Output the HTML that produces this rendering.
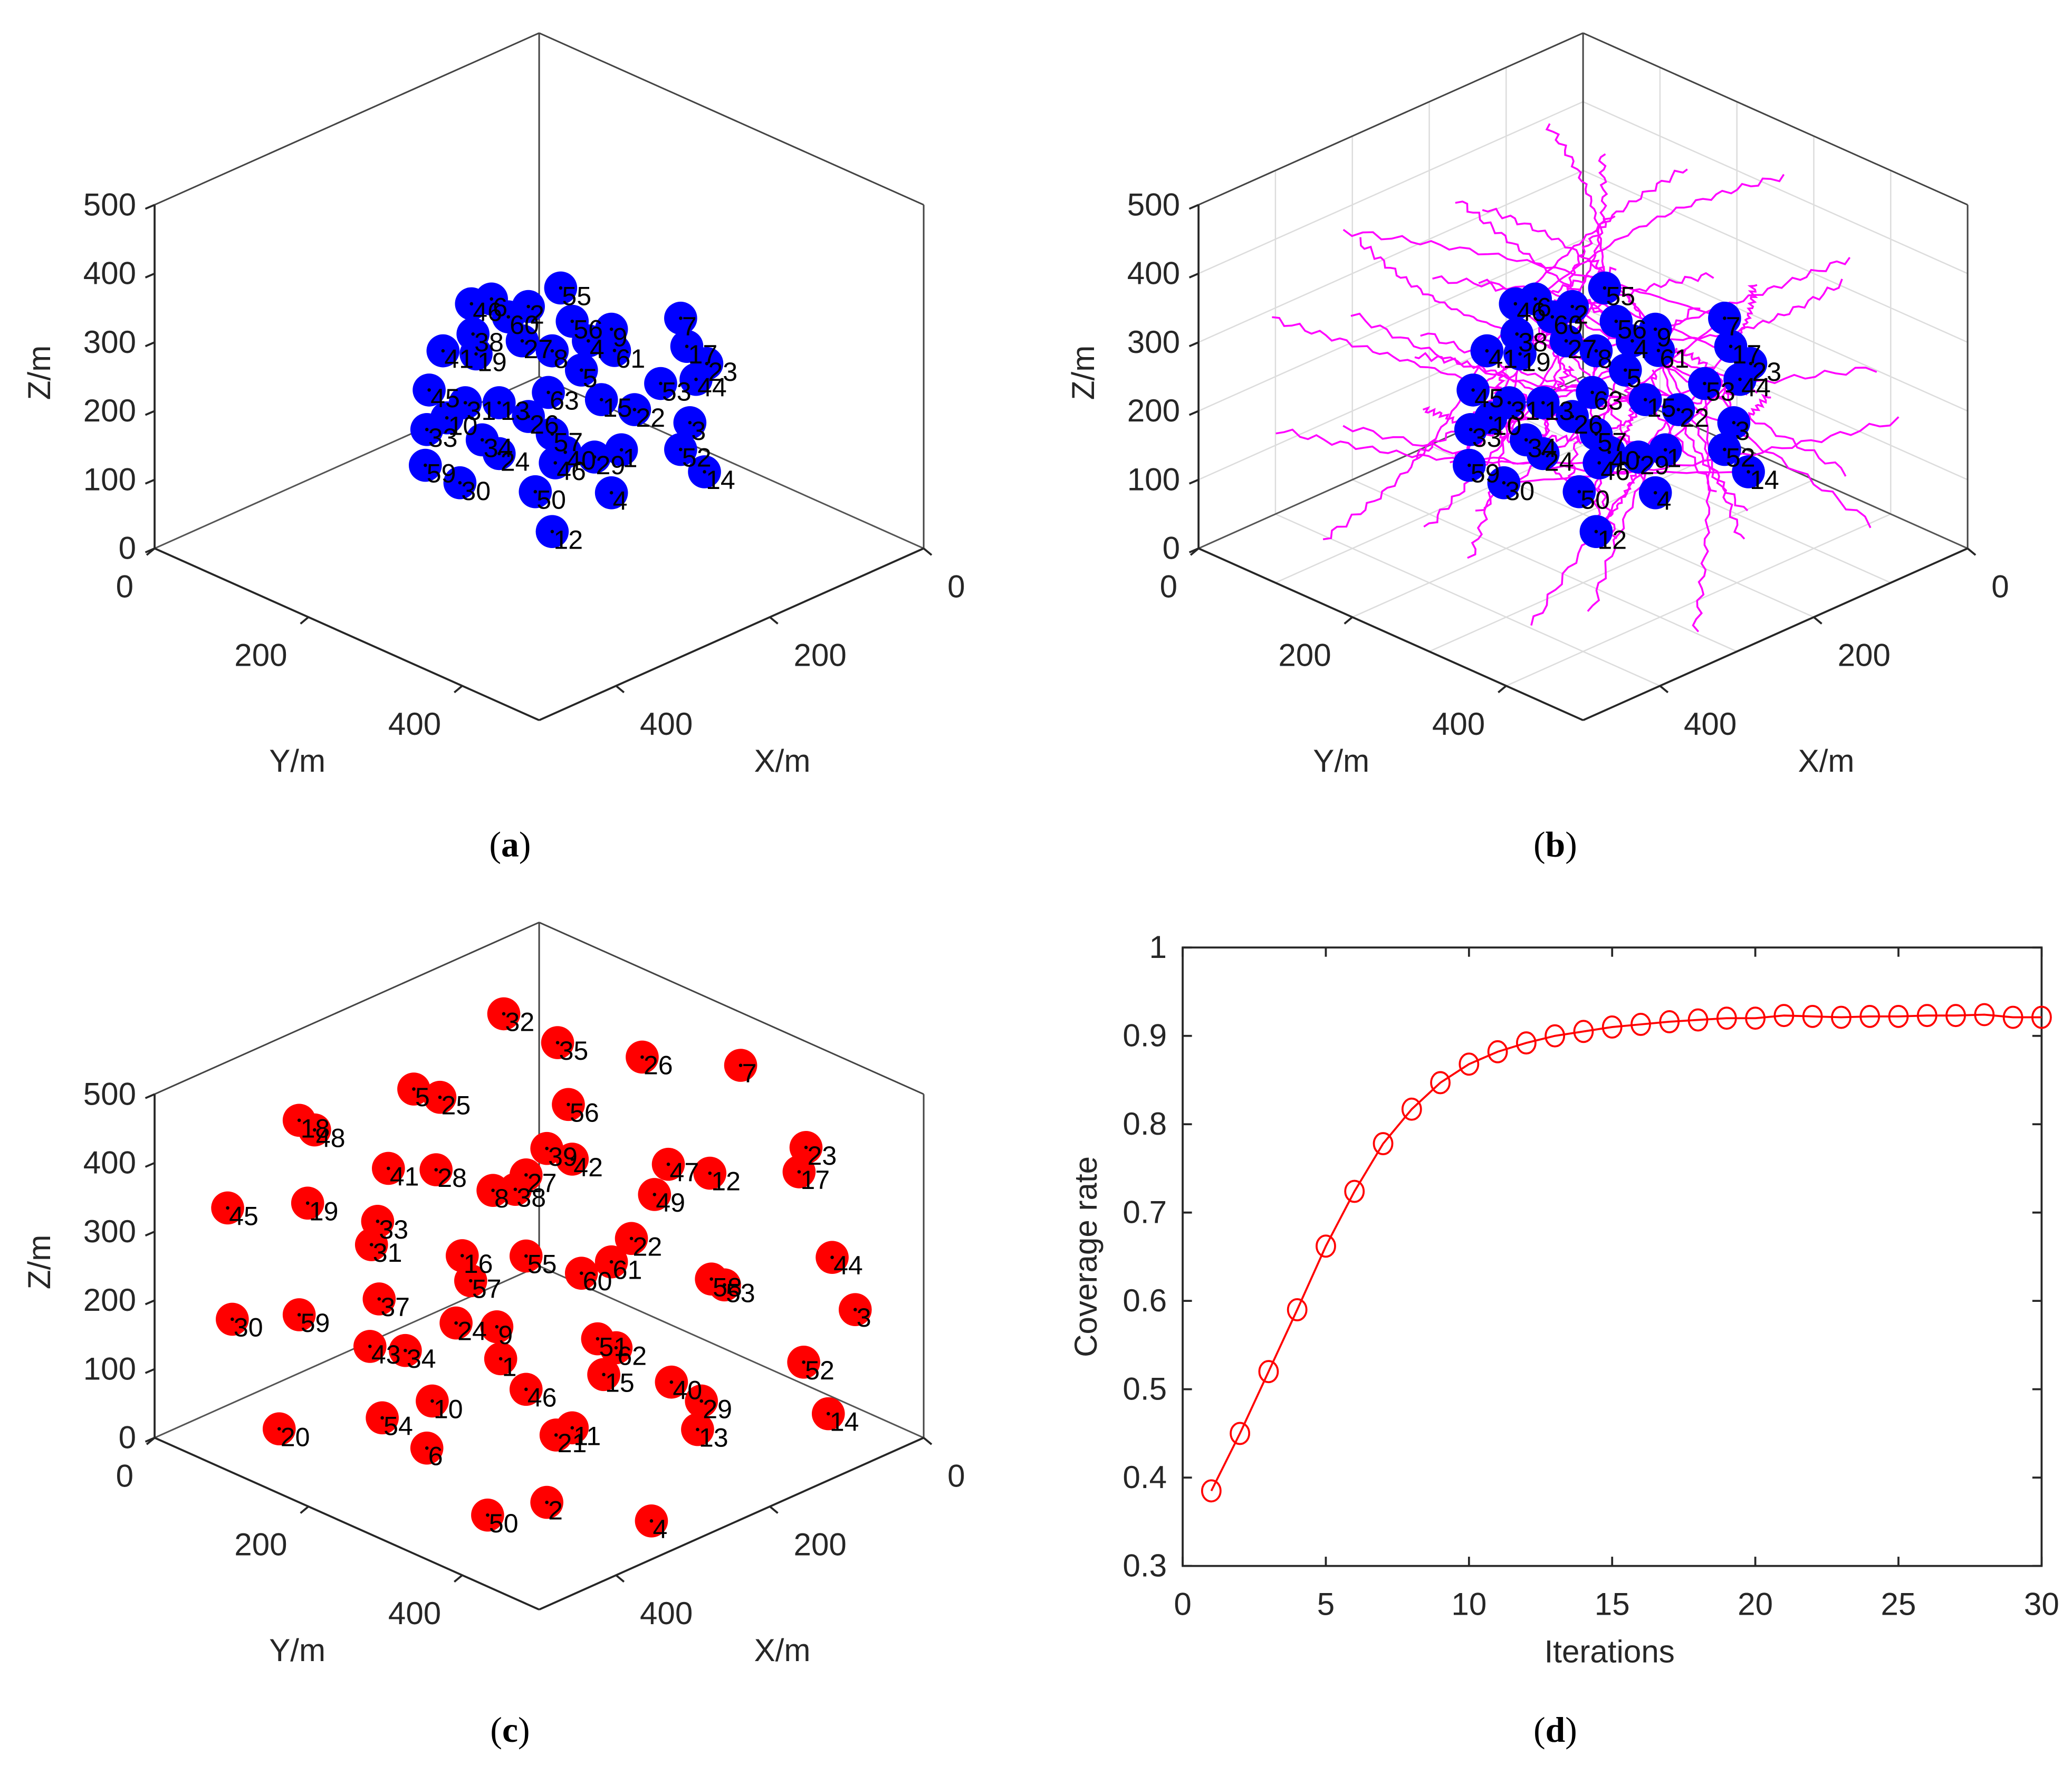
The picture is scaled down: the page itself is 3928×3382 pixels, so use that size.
<!DOCTYPE html>
<html><head><meta charset="utf-8"><style>
html,body{margin:0;padding:0;background:#fff;}
svg{display:block;font-family:"Liberation Sans",sans-serif;}
</style></head><body>
<svg id="fig" xmlns="http://www.w3.org/2000/svg" width="3928" height="3382" viewBox="0 0 1568 1350" preserveAspectRatio="none">
<rect width="1568" height="1350" fill="#fff"/>
<g id="pa"></g>
<g id="pb"></g>
<g id="pc"></g>
<g id="pd"></g>
<text x="386" y="648" text-anchor="middle" font-family="Liberation Serif,serif" font-size="27">(<tspan font-weight="bold">a</tspan>)</text>
<text x="1177" y="648" text-anchor="middle" font-family="Liberation Serif,serif" font-size="27">(<tspan font-weight="bold">b</tspan>)</text>
<text x="386" y="1318" text-anchor="middle" font-family="Liberation Serif,serif" font-size="27">(<tspan font-weight="bold">c</tspan>)</text>
<text x="1177" y="1318" text-anchor="middle" font-family="Liberation Serif,serif" font-size="27">(<tspan font-weight="bold">d</tspan>)</text>
</svg>
<script>
// initial node positions (panels a, b)
const initLabels=["55","2","46","6","56","9","7","38","27","8","4","61","41","19","17","23","53","44","63","45","31","13","15","22","26","3","33","34","24","57","40","1","29","52","59","30","46","14","50","4","12","10","60","5"];
const initX=[361,382,419,406,354,328,283,418,386,367,343,326,438,416,279,266,296,273,369,447,423,401,335,313,382,277,448,412,401,367,358,322,339,283,449,427,365,268,378,328,367,435,395,348];
const initY=[389,368,331,344,397,422,467,332,364,384,407,424,313,334,471,484,454,477,381,304,327,349,416,437,368,473,302,338,349,384,392,429,411,467,301,324,386,483,373,422,384,315,355,403];
const initZ=[504,477,481,488,456,444,460,437,427,413,427,413,413,408,419,394,365,371,352,356,337,337,342,327,317,308,298,283,263,292,265,269,258,269,246,221,250,237,208,206,150,315,462,385];
// final node positions (panel c)
const finLabels=["32","35","26","7","5","25","18","48","56","23","17","39","42","47","12","41","28","27","8","38","49","45","19","33","31","22","44","16","55","61","60","57","58","53","37","3","30","59","24","9","51","62","43","34","1","52","15","40","46","29","10","14","54","11","21","13","20","6","2","50","4"];
const finX=[398,363,308,244,457,440,531,521,356,202,206,370,354,291,264,473,442,384,405,391,300,578,526,480,484,315,185,425,384,328,348,420,263,255,479,170,575,531,429,403,337,325,485,462,400,203,333,289,384,270,445,187,477,354,364,272,544,448,370,409,302];
const finY=[352,387,442,506,294,311,219,229,394,549,544,380,397,459,486,277,308,367,345,360,450,173,225,270,266,435,566,325,367,422,403,331,487,496,271,581,176,219,321,348,413,425,265,288,350,547,417,461,367,481,306,563,273,397,386,478,206,302,380,342,448];
const finZ=[742,700,679,667,633,621,587,573,610,548,512,546,531,523,510,517,515,508,485,487,479,460,467,440,406,415,388,390,390,381,365,354,356,348,327,312,298,304,292,287,269,256,258,252,240,235,217,206,196,179,179,160,154,140,129,137,138,110,31,13,4];
// coverage
const iterations=[1,2,3,4,5,6,7,8,9,10,11,12,13,14,15,16,17,18,19,20,21,22,23,24,25,26,27,28,29,30];
const coverage=[0.385,0.45,0.52,0.59,0.662,0.724,0.778,0.817,0.847,0.868,0.882,0.892,0.900,0.905,0.910,0.913,0.916,0.918,0.920,0.920,0.923,0.922,0.921,0.922,0.922,0.923,0.923,0.924,0.921,0.921];
const xTicks=[0,5,10,15,20,25,30];
const yTicks=[0.3,0.4,0.5,0.6,0.7,0.8,0.9,1];
const yTickLabels=["0.3","0.4","0.5","0.6","0.7","0.8","0.9","1"];
const axTicks3=[0,200,400];
const zTicks3=[0,100,200,300,400,500];

const NS="http://www.w3.org/2000/svg";
function mk(parent,tag,attrs,txt){const e=document.createElementNS(NS,tag);for(const k in attrs)e.setAttribute(k,attrs[k]);if(txt!==undefined)e.textContent=txt;parent.appendChild(e);return e;}
function P(x,y,z,ox,oy){return [ox+(y-x)/500*291, oy+(x+y)/500*130 - z/500*260];}

function box(g,ox,oy,grid){
  const c=(x,y,z)=>P(x,y,z,ox,oy);
  const ln=(a,b,col,w,name)=>{const l=mk(g,'line',{x1:a[0],y1:a[1],x2:b[0],y2:b[1],stroke:col,'stroke-width':w});};
  if(grid){
    for(let v=100;v<500;v+=100){
      ln(c(v,0,0),c(v,0,500),'#dcdcdc',1,'grid-line');ln(c(0,v,0),c(0,v,500),'#dcdcdc',1,'grid-line');
      ln(c(v,0,0),c(v,500,0),'#dcdcdc',1,'grid-line');ln(c(0,v,0),c(500,v,0),'#dcdcdc',1,'grid-line');
      ln(c(500,0,v),c(0,0,v),'#dcdcdc',1,'grid-line');ln(c(0,0,v),c(0,500,v),'#dcdcdc',1,'grid-line');
    }
  }
  const bk='#262626';
  ln(c(500,0,0),c(0,0,0),'#555',1.2,'box-edge');ln(c(0,0,0),c(0,500,0),'#555',1.2,'box-edge');
  ln(c(0,0,0),c(0,0,500),'#444',1.2,'box-edge');
  ln(c(500,0,500),c(0,0,500),'#444',1.2,'box-edge');ln(c(0,0,500),c(0,500,500),'#444',1.2,'box-edge');
  ln(c(0,500,0),c(0,500,500),'#444',1.2,'box-edge');
  ln(c(500,0,0),c(500,0,500),bk,1.5,'z-axis-line');
  ln(c(500,0,0),c(500,500,0),bk,1.5,'y-axis-line');
  ln(c(500,500,0),c(0,500,0),bk,1.5,'x-axis-line');
  for(const t of zTicks3){const p=c(500,0,t);ln([p[0]-7,p[1]+3],p,bk,1.5,'z-tick');
    const tx=mk(g,'text',{x:p[0]-14,y:p[1]+8,'text-anchor':'end','font-size':24,fill:'#262626'},String(t));}
  for(const t of axTicks3){const p=c(500,t,0);ln(p,[p[0]-6,p[1]+5],bk,1.5,'y-tick');
    const tx=mk(g,'text',{x:p[0]-16,y:p[1]+37,'text-anchor':'end','font-size':24,fill:'#262626'},String(t));}
  for(const t of axTicks3){const p=c(t,500,0);ln(p,[p[0]+6,p[1]+5],bk,1.5,'x-tick');
    const tx=mk(g,'text',{x:p[0]+18,y:p[1]+37,'font-size':24,fill:'#262626'},String(t));}
  let t=mk(g,'text',{x:ox-183,y:oy+299,'text-anchor':'middle','font-size':24,fill:'#262626'},'Y/m');
  t=mk(g,'text',{x:ox+184,y:oy+299,'text-anchor':'middle','font-size':24,fill:'#262626'},'X/m');
  t=mk(g,'text',{x:0,y:0,'text-anchor':'middle','font-size':24,fill:'#262626',transform:`translate(${ox-370},${oy-3}) rotate(-90)`},'Z/m');
}
function nodes(g,X,Y,Z,L,ox,oy,col){
  const pts=X.map((x,i)=>({i,p:P(x,Y[i],Z[i],ox,oy)}));
  for(const o of pts){const c=mk(g,'circle',{cx:o.p[0],cy:o.p[1],r:12.5,fill:col});}
  for(const o of pts){const d=mk(g,'circle',{cx:o.p[0],cy:o.p[1],r:1.3,fill:'#000'});
    const t=mk(g,'text',{x:o.p[0]+1,y:o.p[1]+13,'font-size':20,fill:'#000'},L[o.i]);}
}
const ga=document.getElementById('pa'),gb=document.getElementById('pb'),gc=document.getElementById('pc'),gd=document.getElementById('pd');
box(ga,408,285,false);nodes(ga,initX,initY,initZ,initLabels,408,285,'#0000ff');
box(gc,408,958,false);nodes(gc,finX,finY,finZ,finLabels,408,958,'#ff0000');
box(gb,1198,285,true);
// trajectories in (b)
for(let i=0;i<finX.length;i++){
  const j=i%initX.length;
  const a=P(initX[j],initY[j],initZ[j],1198,285),b=P(finX[i],finY[i],finZ[i],1198,285);
  const dx=b[0]-a[0],dy=b[1]-a[1],L=Math.hypot(dx,dy)||1,nx=-dy/L,ny=dx/L;
  let d='';
  for(let k=0;k<=40;k++){const t=k/40;const w=Math.sin(t*Math.PI)*(14*Math.sin(i*1.3+1))+ 3*Math.sin(k*1.9+i)*t;
    const x=a[0]+dx*t+nx*w,y=a[1]+dy*t+ny*w;d+=(k?'L':'M')+x.toFixed(1)+' '+y.toFixed(1);}
  const p=mk(gb,'path',{d:d,fill:'none',stroke:'#ff00ff','stroke-width':1.4});
  
  
}
nodes(gb,initX,initY,initZ,initLabels,1198,285,'#0000ff');
// panel d
const L0=895,R0=1545,T0=717,B0=1185;
const sx=v=>L0+v/30*(R0-L0), sy=v=>B0-(v-0.3)/0.7*(B0-T0);
let r=mk(gd,'rect',{x:L0,y:T0,width:R0-L0,height:B0-T0,fill:'none',stroke:'#262626','stroke-width':1.5});
xTicks.forEach(v=>{const x=sx(v);
  let l=mk(gd,'line',{x1:x,y1:B0,x2:x,y2:B0-7,stroke:'#262626','stroke-width':1.5});
  l=mk(gd,'line',{x1:x,y1:T0,x2:x,y2:T0+7,stroke:'#262626','stroke-width':1.5});
  const t=mk(gd,'text',{x:x,y:B0+37,'text-anchor':'middle','font-size':24,fill:'#262626'},String(v));});
yTicks.forEach((v,i)=>{const y=sy(v);
  let l=mk(gd,'line',{x1:L0,y1:y,x2:L0+7,y2:y,stroke:'#262626','stroke-width':1.5});
  l=mk(gd,'line',{x1:R0,y1:y,x2:R0-7,y2:y,stroke:'#262626','stroke-width':1.5});
  const t=mk(gd,'text',{x:L0-12,y:y+8,'text-anchor':'end','font-size':24,fill:'#262626'},yTickLabels[i]);});
let tt=mk(gd,'text',{x:1218,y:1258,'text-anchor':'middle','font-size':24,fill:'#262626'},'Iterations');
tt=mk(gd,'text',{x:0,y:0,'text-anchor':'middle','font-size':24,fill:'#262626',transform:'translate(830,951) rotate(-90)'},'Coverage rate');
const pl=mk(gd,'polyline',{points:iterations.map((v,i)=>sx(v)+','+sy(coverage[i])).join(' '),fill:'none',stroke:'#ff0000','stroke-width':1.5});


iterations.forEach((v,i)=>{const e=mk(gd,'ellipse',{cx:sx(v),cy:sy(coverage[i]),rx:7,ry:8,fill:'none',stroke:'#ff0000','stroke-width':1.5});
  
  });
</script>
</body></html>
